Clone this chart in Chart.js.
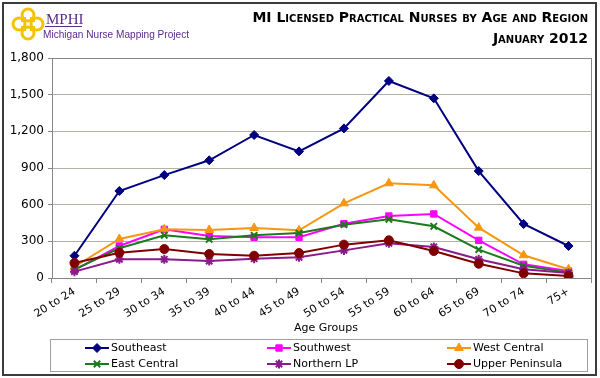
<!DOCTYPE html>
<html lang="en">
<head>
    <meta charset="UTF-8">
    <title>MI Licensed Practical Nurses by Age and Region</title>
    <style>
        html, body { margin: 0; padding: 0; background: #fff; }
        .wrap { width: 600px; height: 378px; position: relative; }
    </style>
</head>
<body>
    <div class="wrap">
        <canvas id="lpnChart" width="600" height="378"></canvas>
    </div>

    <script src="https://cdn.jsdelivr.net/npm/chart.js"></script>
    <script>
        // Age groups (x categories)
        const ageGroups = ['20 to 24', '25 to 29', '30 to 34', '35 to 39', '40 to 44', '45 to 49',
                           '50 to 54', '55 to 59', '60 to 64', '65 to 69', '70 to 74', '75+'];

        // LPN counts per region
        const southeast      = [182, 712, 842, 963, 1170, 1036, 1224, 1612, 1470, 875, 442, 262];
        const southwest      = [65, 262, 398, 343, 333, 333, 444, 507, 524, 308, 112, 57];
        const westCentral    = [92, 319, 398, 393, 409, 390, 611, 775, 758, 412, 186, 71];
        const eastCentral    = [71, 243, 349, 317, 349, 368, 436, 480, 423, 232, 101, 44];
        const northernLP     = [52, 153, 153, 139, 158, 169, 226, 284, 254, 153, 71, 41];
        const upperPeninsula = [123, 207, 237, 196, 182, 204, 273, 308, 221, 117, 38, 16];

        const yTicks = [0, 300, 600, 900, 1200, 1500, 1800];

        // series look
        const series = [
            { label: 'Southeast',       data: southeast,      color: '#000080', point: 'rectRot',  r: 4.5 },
            { label: 'Southwest',       data: southwest,      color: '#ff00ff', point: 'rect',     r: 4.5 },
            { label: 'West Central',    data: westCentral,    color: '#f7960f', point: 'triangle', r: 5 },
            { label: 'East Central',    data: eastCentral,    color: '#1b7a1b', point: 'crossRot', r: 4.5 },
            { label: 'Northern LP',     data: northernLP,     color: '#8b1a8b', point: 'star',     r: 4.5 },
            { label: 'Upper Peninsula', data: upperPeninsula, color: '#800000', point: 'circle',   r: 4.5 }
        ];

        const FONT = '"DejaVu Sans", Verdana, sans-serif';

        function drawMarker(ctx, s, x, y) {
            ctx.fillStyle = s.color;
            ctx.strokeStyle = s.color;
            ctx.lineWidth = (s.point === 'crossRot' || s.point === 'star') ? 2 : 1;
            Chart.helpers.drawPoint(ctx, { pointStyle: s.point, radius: s.r, rotation: 0, borderWidth: ctx.lineWidth }, x, y);
        }

        function drawLogo(ctx) {
            ctx.save();
            ctx.strokeStyle = '#f3c300';
            ctx.lineWidth = 3;
            const cx = 28, cy = 24;
            [[0, -9], [0, 9], [-9, 0], [9, 0]].forEach(([dx, dy]) => {
                ctx.beginPath();
                ctx.arc(cx + dx, cy + dy, 6, 0, Math.PI * 2);
                ctx.stroke();
            });
            ctx.lineWidth = 2;
            ctx.beginPath();
            for (let k = -1; k <= 1; k += 2) {
                ctx.moveTo(cx - 7, cy + k * 3); ctx.lineTo(cx + 7, cy + k * 3);
                ctx.moveTo(cx + k * 3, cy - 7); ctx.lineTo(cx + k * 3, cy + 7);
            }
            ctx.stroke();

            ctx.fillStyle = '#5b2a8e';
            ctx.font = '15px "Liberation Serif", serif';
            ctx.textAlign = 'left';
            ctx.textBaseline = 'alphabetic';
            ctx.fillText('MPHI', 46, 24);
            ctx.fillRect(45, 26, 37, 1);
            ctx.font = '11px "Liberation Sans", Arial, sans-serif';
            ctx.fillText('Michigan Nurse Mapping Project', 43, 38, 146);
            ctx.restore();
        }

        const framePlugin = {
            id: 'frame',
            beforeDraw(chart) {
                const ctx = chart.ctx;
                ctx.save();
                ctx.fillStyle = '#fff';
                ctx.fillRect(0, 0, chart.width, chart.height);
                ctx.restore();
            },
            afterDraw(chart) {
                const ctx = chart.ctx;
                const a = chart.chartArea;
                ctx.save();

                // plot area border
                ctx.strokeStyle = '#868686';
                ctx.lineWidth = 1;
                ctx.strokeRect(Math.round(a.left) + 0.5, Math.round(a.top) + 0.5,
                               Math.round(a.right - a.left), Math.round(a.bottom - a.top));

                // outer frame
                ctx.strokeStyle = '#3c3c3c';
                ctx.lineWidth = 2;
                ctx.strokeRect(3, 3, 593, 372);

                // header
                drawLogo(ctx);
                ctx.fillStyle = '#000';
                ctx.textAlign = 'right';
                ctx.font = 'small-caps bold 14px ' + FONT;
                ctx.fillText('MI Licensed Practical Nurses by Age and Region', 588, 22);
                ctx.fillText('January 2012', 588, 43);

                // x axis title
                ctx.font = '11px ' + FONT;
                ctx.textAlign = 'center';
                ctx.textBaseline = 'middle';
                ctx.fillText('Age Groups', 326, 328);

                // legend box
                ctx.strokeStyle = '#a0a0a0';
                ctx.lineWidth = 1;
                ctx.strokeRect(50.5, 339.5, 537, 32);
                const cols = [97, 279, 459];
                const rows = [348, 364];
                ctx.textAlign = 'left';
                series.forEach((s, i) => {
                    const x = cols[i % 3], y = rows[Math.floor(i / 3)];
                    ctx.strokeStyle = s.color;
                    ctx.lineWidth = 2;
                    ctx.beginPath();
                    ctx.moveTo(x - 12, y); ctx.lineTo(x + 12, y);
                    ctx.stroke();
                    drawMarker(ctx, s, x, y);
                    ctx.fillStyle = '#000';
                    ctx.fillText(s.label, x + 14, y);
                });
                ctx.restore();
            }
        };

        new Chart(document.getElementById('lpnChart').getContext('2d'), {
            type: 'line',
            data: {
                labels: ageGroups,
                datasets: series.map((s, i) => ({
                    label: s.label,
                    data: s.data,
                    borderColor: s.color,
                    backgroundColor: s.color,
                    borderWidth: 2,
                    pointStyle: s.point,
                    pointRadius: s.r,
                    pointBorderWidth: (s.point === 'crossRot' || s.point === 'star') ? 2 : 1,
                    fill: false,
                    tension: 0,
                    order: series.length - i
                }))
            },
            options: {
                responsive: false,
                animation: false,
                layout: { padding: { left: 0, right: 9, top: 58, bottom: 43 } },
                plugins: {
                    legend: { display: false },
                    tooltip: { enabled: false }
                },
                scales: {
                    x: {
                        offset: true,
                        grid: { offset: true, drawOnChartArea: false, tickLength: 5, color: '#868686' },
                        border: { color: '#868686' },
                        ticks: { color: '#000', font: { family: FONT, size: 11 }, minRotation: 32, maxRotation: 32, padding: 2 },
                        afterFit: s => { s.height = 57; }
                    },
                    y: {
                        min: 0,
                        max: 1800,
                        afterBuildTicks: s => { s.ticks = yTicks.map(v => ({ value: v })); },
                        grid: { color: '#b4b0a4', tickLength: 4, tickColor: '#868686' },
                        border: { color: '#868686' },
                        ticks: {
                            color: '#000',
                            font: { family: FONT, size: 12 },
                            padding: 4,
                            callback: v => v.toLocaleString('en-US')
                        },
                        afterFit: s => { s.width = 52; }
                    }
                }
            },
            plugins: [framePlugin]
        });
    </script>
</body>
</html>
